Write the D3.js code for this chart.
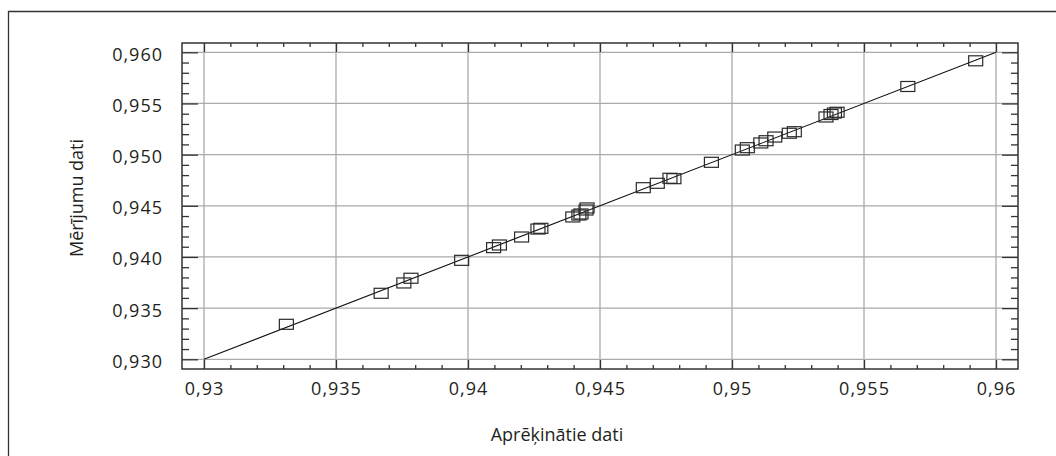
<!DOCTYPE html>
<html>
<head>
<meta charset="utf-8">
<script src="https://cdn.jsdelivr.net/npm/d3@7"></script>
<style>
  html, body { margin: 0; padding: 0; background: #fff; }
  svg { display: block; }
  text { font-family: "Open Sans", sans-serif; fill: #231f20; }
</style>
</head>
<body>
<svg id="chart" width="1056" height="456"></svg>
<script>
// Calculated values (x) against measured values (y)
const calculated = [
  0.93312, 0.93671, 0.93757, 0.93784, 0.93976, 0.94097, 0.94119, 0.94203,
  0.94265, 0.94276, 0.94397, 0.94420, 0.94428, 0.94447, 0.94451, 0.94664,
  0.94717, 0.94765, 0.94780, 0.94922, 0.95039, 0.95058, 0.95109, 0.95129,
  0.95162, 0.95217, 0.95236, 0.95356, 0.95375, 0.95388, 0.95398, 0.95666,
  0.95923
];
const measured = [
  0.93342, 0.93645, 0.93746, 0.93792, 0.93967, 0.94091, 0.94117, 0.94195,
  0.94273, 0.94280, 0.94391, 0.94410, 0.94420, 0.94459, 0.94479, 0.94677,
  0.94720, 0.94769, 0.94765, 0.94925, 0.95045, 0.95068, 0.95114, 0.95136,
  0.95172, 0.95209, 0.95224, 0.95368, 0.95392, 0.95407, 0.95414, 0.95666,
  0.95917
];
const majorTicks = [0.930, 0.935, 0.940, 0.945, 0.950, 0.955, 0.960];
const xTickLabels = ["0,93", "0,935", "0,94", "0,945", "0,95", "0,955", "0,96"];
const yTickLabels = ["0,930", "0,935", "0,940", "0,945", "0,950", "0,955", "0,960"];
const minorTicks = d3.range(930, 961).filter(v => v % 5 !== 0).map(v => v / 1000);
const xTitle = "Aprēķinātie dati";
const yTitle = "Mērījumu dati";

const svg = d3.select("#chart");
const plotL = 182, plotR = 1018, plotT = 43, plotB = 369;

const x = d3.scaleLinear().domain([0.929167, 0.960833]).range([plotL, plotR]);
const y = d3.scaleLinear().domain([0.929052, 0.960909]).range([plotB, plotT]);

// outer frame (left and top edges visible)
svg.append("path")
  .attr("d", "M8.5,456V11.5H1056")
  .attr("fill", "none").attr("stroke", "#333").attr("stroke-width", 1.3);

// grid
const grid = svg.append("g").attr("stroke", "#aaaaaa").attr("stroke-width", 1.3);
grid.selectAll(".gx").data(majorTicks).join("line").attr("class", "gx")
  .attr("x1", d => x(d)).attr("x2", d => x(d))
  .attr("y1", plotT).attr("y2", plotB);
grid.selectAll(".gy").data(majorTicks).join("line").attr("class", "gy")
  .attr("y1", d => y(d)).attr("y2", d => y(d))
  .attr("x1", plotL).attr("x2", plotR);

// identity line
svg.append("line")
  .attr("x1", x(0.93)).attr("y1", y(0.93))
  .attr("x2", x(0.96)).attr("y2", y(0.96))
  .attr("stroke", "#111").attr("stroke-width", 1.1);

// points as hollow rectangles
const pts = calculated.map((c, i) => ({ c, m: measured[i] }));
svg.append("g").selectAll("rect").data(pts).join("rect")
  .attr("x", d => x(d.c) - 7).attr("y", d => y(d.m) - 5)
  .attr("width", 14).attr("height", 10)
  .attr("fill", "none").attr("stroke", "#2a2a2a").attr("stroke-width", 1.2);

// axes: ticks pointing into the plot
function styleAxis(g) {
  g.select(".domain").remove();
  g.selectAll(".tick line").attr("stroke", "#333").attr("stroke-width", 1.3);
}
const fmtX = d => xTickLabels[majorTicks.findIndex(t => Math.abs(t - d) < 1e-9)];
const fmtY = d => yTickLabels[majorTicks.findIndex(t => Math.abs(t - d) < 1e-9)];

// bottom
svg.append("g").attr("transform", `translate(0,${plotB})`)
  .call(d3.axisBottom(x).tickValues(majorTicks).tickSize(-9).tickPadding(13).tickFormat(fmtX))
  .call(styleAxis)
  .call(g => g.selectAll("text").attr("font-size", 18).attr("letter-spacing", "1px")
    .attr("font-family", "Open Sans").attr("fill", "#231f20"));
svg.append("g").attr("transform", `translate(0,${plotB})`)
  .call(d3.axisBottom(x).tickValues(minorTicks).tickSize(-4).tickFormat(""))
  .call(styleAxis);
// top
svg.append("g").attr("transform", `translate(0,${plotT})`)
  .call(d3.axisTop(x).tickValues(majorTicks).tickSize(-9).tickFormat(""))
  .call(styleAxis);
svg.append("g").attr("transform", `translate(0,${plotT})`)
  .call(d3.axisTop(x).tickValues(minorTicks).tickSize(-4).tickFormat(""))
  .call(styleAxis);
// left
svg.append("g").attr("transform", `translate(${plotL},0)`)
  .call(d3.axisLeft(y).tickValues(majorTicks).tickSize(-16).tickPadding(19).tickFormat(fmtY))
  .call(styleAxis)
  .call(g => g.selectAll("text").attr("font-size", 18).attr("letter-spacing", "1px")
    .attr("dy", "0.44em").attr("font-family", "Open Sans").attr("fill", "#231f20"));
svg.append("g").attr("transform", `translate(${plotL},0)`)
  .call(d3.axisLeft(y).tickValues(minorTicks).tickSize(-7).tickFormat(""))
  .call(styleAxis);
// right
svg.append("g").attr("transform", `translate(${plotR},0)`)
  .call(d3.axisRight(y).tickValues(majorTicks).tickSize(-16).tickFormat(""))
  .call(styleAxis);
svg.append("g").attr("transform", `translate(${plotR},0)`)
  .call(d3.axisRight(y).tickValues(minorTicks).tickSize(-7).tickFormat(""))
  .call(styleAxis);

// plot border
svg.append("rect")
  .attr("x", plotL).attr("y", plotT)
  .attr("width", plotR - plotL).attr("height", plotB - plotT)
  .attr("fill", "none").attr("stroke", "#333").attr("stroke-width", 1.5);

// axis titles
svg.append("text")
  .attr("x", 557).attr("y", 441)
  .attr("text-anchor", "middle").attr("font-size", 18)
  .text(xTitle);
svg.append("text")
  .attr("transform", "translate(83,198) rotate(-90)")
  .attr("text-anchor", "middle").attr("font-size", 18)
  .text(yTitle);
</script>
</body>
</html>
